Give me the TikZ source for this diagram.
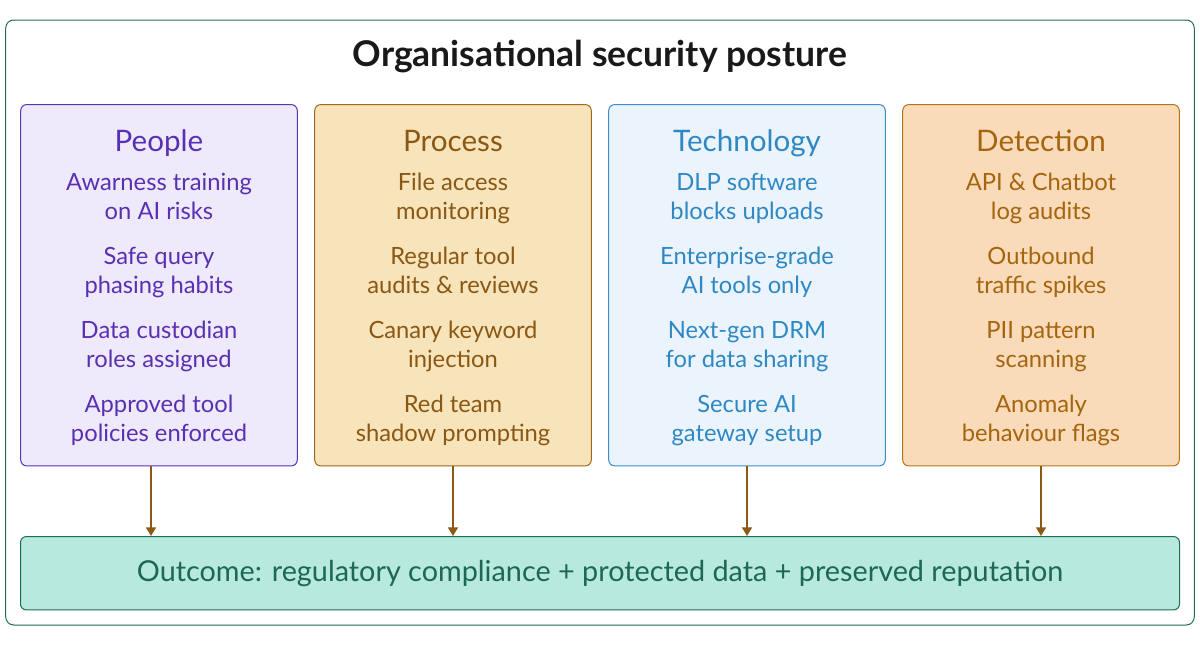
\documentclass[tikz,border=0pt]{standalone}
\usepackage{fontspec}
\setmainfont{Lato}
\usetikzlibrary{positioning,arrows.meta}
\definecolor{frameG}{HTML}{1F6B55}
\definecolor{peopleF}{HTML}{EEEAFB}
\definecolor{peopleD}{HTML}{5B33B6}
\definecolor{peopleT}{HTML}{5A30B2}
\definecolor{processF}{HTML}{F8E4BA}
\definecolor{processD}{HTML}{A0691A}
\definecolor{processT}{HTML}{8A5814}
\definecolor{techF}{HTML}{EBF4FC}
\definecolor{techD}{HTML}{3B8DC8}
\definecolor{techT}{HTML}{2E88C4}
\definecolor{detF}{HTML}{F9DAB9}
\definecolor{detD}{HTML}{B5741B}
\definecolor{detT}{HTML}{A5650E}
\definecolor{outF}{HTML}{B8E9DF}
\definecolor{outT}{HTML}{1C6853}
\definecolor{arrowB}{HTML}{8B5A14}

\begin{document}
\begin{tikzpicture}[x=0.75pt,y=-0.75pt,
  col/.style={draw=#1D,fill=#1F,rounded corners=4.5pt,line width=0.75pt,minimum width=207.4pt,minimum height=271pt},
  head/.style={text=#1,anchor=base,font=\fontsize{22.2}{26}\selectfont},
  item/.style={text=#1,anchor=base,align=center,font=\fontsize{17.8}{21.75}\selectfont},
  arr/.style={draw=arrowB,line width=1.1pt,-{Triangle[width=7.5pt,length=6.5pt]}}]
\useasboundingbox (0,0) rectangle (1200,646);
% outer frame and title
\node[draw=frameG,rounded corners=6pt,line width=0.75pt,minimum width=891.4pt,minimum height=453.75pt] (frame) at (600,322.5) {};
\node[anchor=base,text=black!90,font=\fontsize{26.6}{30}\selectfont\bfseries] (title) at (600,66) {Organisational security posture};
% four columns
\node[col=people] (people) at (159,285.25) {};
\node[col=process] (process) at (453,285.25) {};
\node[col=tech] (tech) at (747,285.25) {};
\node[col=det] (det) at (1041,285.25) {};
% people
\node[head=peopleT] (peopleH) at (159,151) {People};
\node[item=peopleT] (p1) at (159,219) {Awarness training\\on AI risks};
\node[item=peopleT] (p2) at (159,293) {Safe query\\phasing habits};
\node[item=peopleT] (p3) at (159,367) {Data custodian\\roles assigned};
\node[item=peopleT] (p4) at (159,441) {Approved tool\\policies enforced};
% process
\node[head=processT] (processH) at (453,151) {Process};
\node[item=processT] (r1) at (453,219) {File access\\monitoring};
\node[item=processT] (r2) at (453,293) {Regular tool\\audits \& reviews};
\node[item=processT] (r3) at (453,367) {Canary keyword\\injection};
\node[item=processT] (r4) at (453,441) {Red team\\shadow prompting};
% technology
\node[head=techT] (techH) at (747,151) {Technology};
\node[item=techT] (t1) at (747,219) {DLP software\\blocks uploads};
\node[item=techT] (t2) at (747,293) {Enterprise-grade\\AI tools only};
\node[item=techT] (t3) at (747,367) {Next-gen DRM\\for data sharing};
\node[item=techT] (t4) at (747,441) {Secure AI\\gateway setup};
% detection
\node[head=detT] (detH) at (1041,151) {Detection};
\node[item=detT] (d1) at (1041,219) {API \& Chatbot\\log audits};
\node[item=detT] (d2) at (1041,293) {Outbound\\traffic spikes};
\node[item=detT] (d3) at (1041,367) {PII pattern\\scanning};
\node[item=detT] (d4) at (1041,441) {Anomaly\\behaviour flags};
% outcome
\node[draw=frameG,fill=outF,rounded corners=4.5pt,line width=0.75pt,minimum width=869.25pt,minimum height=55.1pt,text=outT,font=\fontsize{21.6}{26}\selectfont] (outcome) at (600,573.25) {Outcome: regulatory compliance + protected data + preserved reputation};
% arrows
\draw[arr] ([xshift=-6pt]people.south) -- ([xshift=-6pt]people.south |- outcome.north);
\foreach \c in {process,tech,det}
  \draw[arr] (\c.south) -- (\c.south |- outcome.north);
\end{tikzpicture}
\end{document}
